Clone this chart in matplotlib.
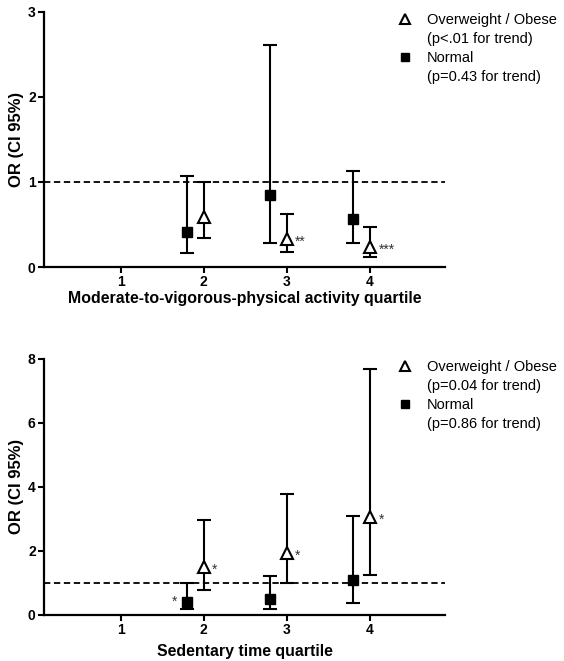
import numpy as np
import matplotlib
matplotlib.use("Agg")
import matplotlib.pyplot as plt
from matplotlib.lines import Line2D

plt.rcParams['font.family'] = ['Liberation Sans', 'DejaVu Sans']

quartiles = [1, 2, 3, 4]

# top panel: MVPA quartile (Q2-Q4, Q1 is reference)
mvpa_q = [2, 3, 4]
mvpa_ow = [0.59, 0.33, 0.23]
mvpa_ow_lo = [0.34, 0.18, 0.12]
mvpa_ow_hi = [1.00, 0.62, 0.47]
mvpa_nw = [0.41, 0.85, 0.56]
mvpa_nw_lo = [0.165, 0.28, 0.28]
mvpa_nw_hi = [1.07, 2.61, 1.13]
mvpa_ow_star = ["", "**", "***"]
mvpa_nw_star = ["", "", ""]
mvpa_labels = ["Overweight / Obese", "(p<.01 for trend)", "Normal", "(p=0.43 for trend)"]

# bottom panel: sedentary time quartile
sed_q = [2, 3, 4]
sed_ow = [1.50, 1.93, 3.07]
sed_ow_lo = [0.76, 1.00, 1.24]
sed_ow_hi = [2.97, 3.77, 7.68]
sed_nw = [0.40, 0.48, 1.08]
sed_nw_lo = [0.18, 0.18, 0.38]
sed_nw_hi = [0.98, 1.22, 3.10]
sed_ow_star = ["*", "*", "*"]
sed_nw_star = ["*", "", ""]
sed_labels = ["Overweight / Obese", "(p=0.04 for trend)", "Normal", "(p=0.86 for trend)"]


def panel(ax, q, ow, ow_lo, ow_hi, nw, nw_lo, nw_hi, ow_star, nw_star,
          ymax, yticks, xlabel, labels, xpad):
    q = np.array(q, dtype=float)
    ow = np.array(ow); nw = np.array(nw)
    x_nw = q - 0.2
    ax.axhline(1, color='black', ls=(0, (3.5, 2)), lw=1.3, zorder=1)
    ax.errorbar(x_nw, nw, yerr=[nw - np.array(nw_lo), np.array(nw_hi) - nw],
                fmt='s', color='black', ms=7, capsize=5, elinewidth=1.5,
                capthick=1.5, zorder=3)
    ax.errorbar(q, ow, yerr=[ow - np.array(ow_lo), np.array(ow_hi) - ow],
                fmt='^', color='black', mfc='white', mec='black', mew=1.5,
                ms=8, capsize=5, elinewidth=1.5, capthick=1.5, zorder=3)
    for xi, yi, s in zip(q, ow, ow_star):
        if s:
            ax.annotate(s, (xi, yi), xytext=(6, -2), textcoords='offset points',
                        ha='left', va='center', fontsize=10, color='#333333')
    for xi, yi, s in zip(x_nw, nw, nw_star):
        if s:
            ax.annotate(s, (xi, yi), xytext=(-7, 0), textcoords='offset points',
                        ha='right', va='center', fontsize=10, color='#333333')
    ax.set_xlim(0.08, 4.9)
    ax.set_ylim(0, ymax)
    ax.set_xticks(quartiles)
    ax.set_yticks(yticks)
    for sp in ['top', 'right']:
        ax.spines[sp].set_visible(False)
    for sp in ['left', 'bottom']:
        ax.spines[sp].set_linewidth(1.6)
    ax.tick_params(direction='out', length=4, width=1.5, labelsize=10, pad=2)
    for t in ax.get_xticklabels() + ax.get_yticklabels():
        t.set_fontweight('bold')
    ax.set_xlabel(xlabel, fontsize=11.4, fontweight='bold', labelpad=xpad)
    ax.set_ylabel("OR (CI 95%)", fontsize=12, fontweight='bold', labelpad=3)

    blank = Line2D([], [], ls='none', marker='none')
    h_ow = Line2D([], [], ls='none', marker='^', mfc='white', mec='black', mew=1.5, ms=7)
    h_nw = Line2D([], [], ls='none', marker='s', color='black', ms=6)
    ax.legend([h_ow, blank, h_nw, blank], labels, loc='upper left',
              bbox_to_anchor=(0.868, 1.018), frameon=False, fontsize=10.5,
              handlelength=1.0, handletextpad=1.0, labelspacing=0.35,
              borderaxespad=0)


fig = plt.figure(figsize=(5.64, 6.61), dpi=100)
ax1 = fig.add_axes([0.078, 0.596, 0.711, 0.386])
ax2 = fig.add_axes([0.078, 0.070, 0.711, 0.387])

panel(ax1, mvpa_q, mvpa_ow, mvpa_ow_lo, mvpa_ow_hi, mvpa_nw, mvpa_nw_lo, mvpa_nw_hi,
      mvpa_ow_star, mvpa_nw_star, 3, [0, 1, 2, 3],
      "Moderate-to-vigorous-physical activity quartile", mvpa_labels, 1)
panel(ax2, sed_q, sed_ow, sed_ow_lo, sed_ow_hi, sed_nw, sed_nw_lo, sed_nw_hi,
      sed_ow_star, sed_nw_star, 8, [0, 2, 4, 6, 8],
      "Sedentary time quartile", sed_labels, 5)

fig.savefig("out.png", dpi=100)
